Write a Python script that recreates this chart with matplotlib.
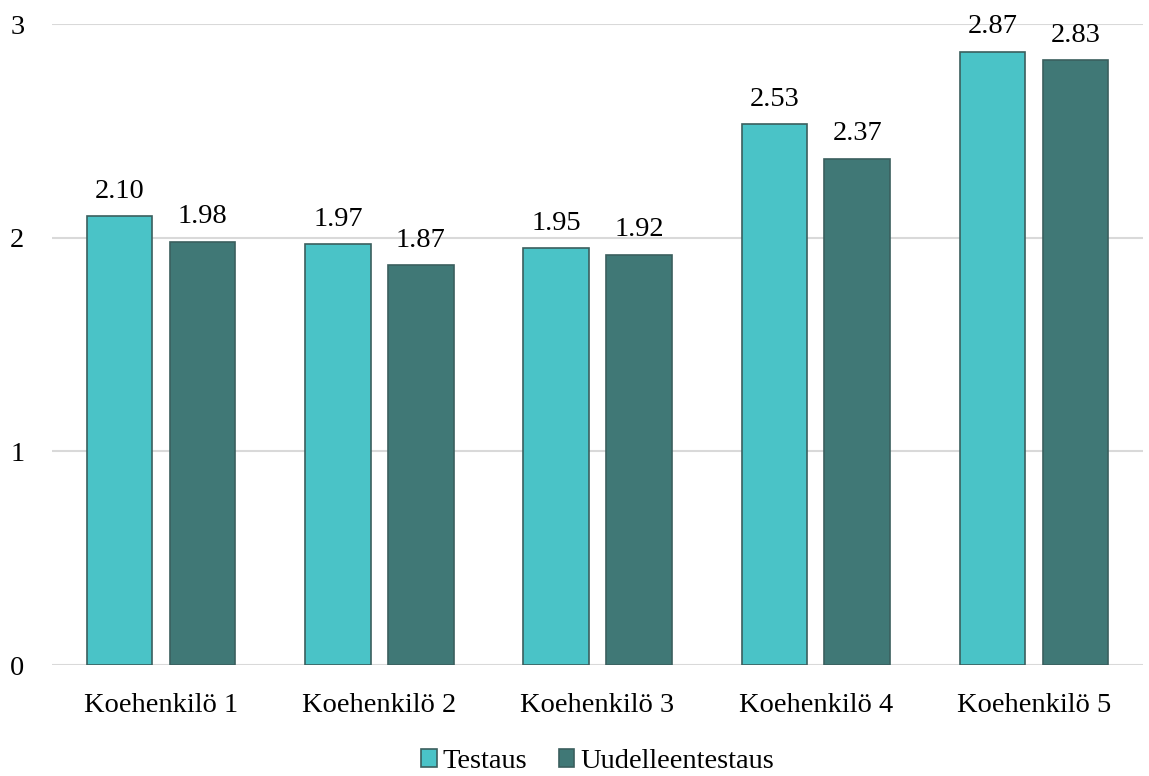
import numpy as np
import matplotlib
matplotlib.use("Agg")
import matplotlib.pyplot as plt

categories = ["Koehenkilö 1", "Koehenkilö 2", "Koehenkilö 3", "Koehenkilö 4", "Koehenkilö 5"]
testaus = [2.10, 1.97, 1.95, 2.53, 2.87]
uudelleen = [1.98, 1.87, 1.92, 2.37, 2.83]
series_names = ["Testaus", "Uudelleentestaus"]

plt.rcParams["font.family"] = ["Liberation Serif", "DejaVu Serif"]
FS = 20.5

fig = plt.figure(figsize=(11.49, 7.76), dpi=100)
ax = fig.add_axes([0.0453, 0.143, 0.9495, 0.826])

x = np.arange(len(categories))
w = 0.30
off = 0.19
c1, c2 = "#4ac3c7", "#407876"
edge = "#3b5f5e"
b1 = ax.bar(x - off, testaus, w, color=c1, edgecolor=edge, linewidth=1.2, label=series_names[0], zorder=3)
b2 = ax.bar(x + off, uudelleen, w, color=c2, edgecolor=edge, linewidth=1.2, label=series_names[1], zorder=3)

for bars, vals in ((b1, testaus), (b2, uudelleen)):
    for r, v in zip(bars, vals):
        ax.annotate(f"{v:.2f}", (r.get_x() + r.get_width() / 2, v), xytext=(0, 9),
                    textcoords="offset points", ha="center", va="bottom", fontsize=FS)

ax.set_xlim(-0.5, len(categories) - 0.5)
ax.set_ylim(0, 3)
ax.set_yticks([0, 1, 2, 3])
ax.set_xticks(x)
ax.set_xticklabels(categories)
ax.grid(axis="y", color="#d9d9d9", linewidth=1.5, zorder=0)
for s in ax.spines.values():
    s.set_visible(False)
ax.tick_params(length=0, labelsize=FS)
ax.tick_params(axis="y", pad=20)
ax.tick_params(axis="x", pad=20)

ax.legend(loc="lower center", bbox_to_anchor=(0.5, -0.21), ncol=2, frameon=False,
          fontsize=FS, handlelength=0.55, handleheight=0.55, handletextpad=0.2,
          columnspacing=1.1)

fig.savefig("out.png", dpi=100)
